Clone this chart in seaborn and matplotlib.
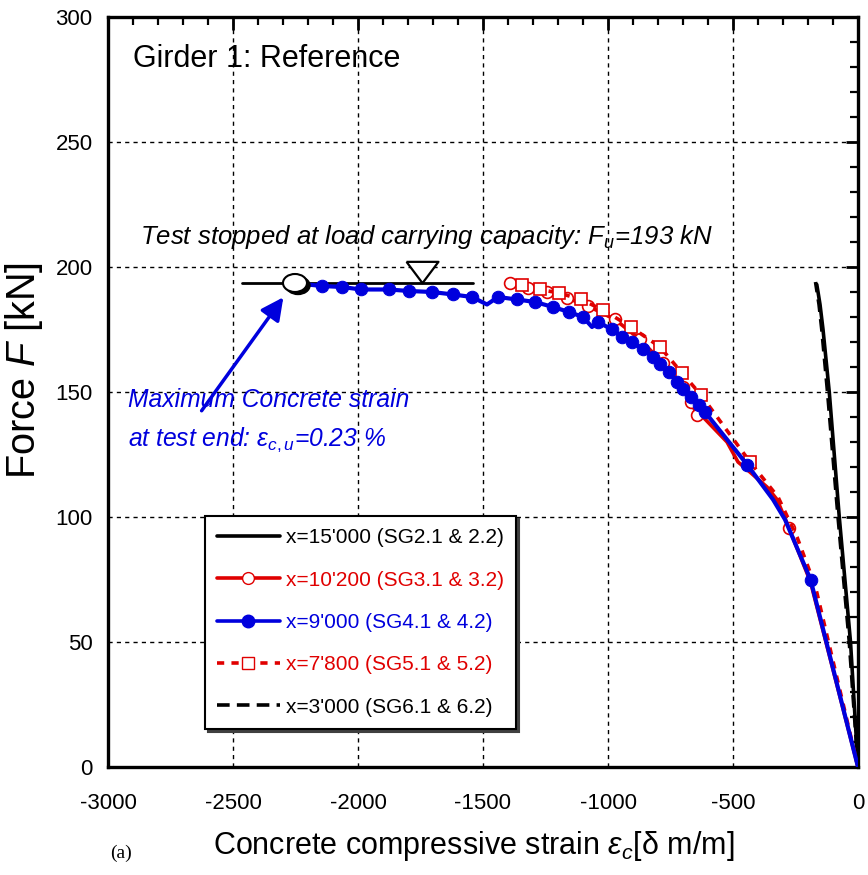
import numpy as np
import pandas as pd
import matplotlib
matplotlib.use("Agg")
import matplotlib.pyplot as plt
import seaborn as sns
from matplotlib.patches import Ellipse
from matplotlib.ticker import MultipleLocator

# ---------------- data ----------------
# x=15'000 (SG2.1 & 2.2)
k1_x = [0, -30, -75, -115, -140, -152, -160, -165]
k1_y = [0, 50, 100, 150, 175, 185, 190, 193]
# x=3'000 (SG6.1 & 6.2)
k2_x = [0, -35, -80, -122, -145, -156, -170]
k2_y = [0, 50, 100, 150, 175, 185, 194]
# x=10'200 (SG3.1 & 3.2)
r1_x = [0, -190, -276, -324, -364, -444, -480, -524, -620, -644, -668, -700, -780,
        -872, -972, -1080, -1164, -1244, -1320, -1392]
r1_y = [0, 74, 95.6, 107, 112, 119, 122, 130, 140, 141, 146, 152, 161.6,
        171, 179, 184.4, 187.6, 190, 191.6, 193.4]
r1_mark = [2, 9, 10, 11, 12, 13, 14, 15, 16, 17, 18, 19]
# x=9'000 (SG4.1 & 4.2)
b_x = [0, -190, -292, -340, -444, -612, -636, -668, -700, -724, -756, -792, -820,
       -860, -904, -944, -984, -1040, -1064, -1100, -1156, -1220, -1292, -1364,
       -1440, -1484, -1544, -1620, -1704, -1796, -1876, -1988, -2064, -2144, -2250]
b_y = [0, 75, 99, 107, 121, 142, 145, 148, 151, 154, 158, 161, 164,
       167, 170, 172, 175, 178, 176, 180, 182, 184, 186, 187,
       188, 185, 188, 189, 190, 190.4, 191, 191, 192, 192.4, 193.5]
b_mark = [1, 4, 5, 6, 7, 8, 9, 10, 11, 12, 13, 14, 15, 16, 17, 19, 20, 21, 22, 23,
          24, 26, 27, 28, 29, 30, 31, 32, 33]
# x=7'800 (SG5.1 & 5.2)
r2_x = [0, -170, -244, -320, -432, -628, -704, -792, -908, -1020, -1108, -1196, -1272, -1344]
r2_y = [0, 72, 92, 108, 122, 148.8, 157.6, 168, 176, 182.8, 187, 189.6, 191, 192.8]
r2_mark = [4, 5, 6, 7, 8, 9, 10, 11, 12, 13]

Fu = 193.6              # load carrying capacity line
Fu_span = [-2464, -1540]
Fu_tri_x = -1744
eps_cu = -2252          # max concrete strain at test end

BLUE = "#0000dd"
RED = "#e00000"

sns.set_style("white")
plt.rcParams["font.family"] = ["Liberation Sans", "DejaVu Sans"]
plt.rcParams["text.color"] = "k"
plt.rcParams["axes.labelcolor"] = "k"
plt.rcParams["xtick.color"] = "k"
plt.rcParams["ytick.color"] = "k"
plt.rcParams["axes.unicode_minus"] = False
plt.rcParams["mathtext.fontset"] = "custom"
plt.rcParams["mathtext.rm"] = "Liberation Sans"
plt.rcParams["mathtext.it"] = "Liberation Sans:italic"

fig = plt.figure(figsize=(8.68, 8.75), dpi=100)
ax = fig.add_axes([0.1244, 0.1234, 0.8641, 0.8572])

lw = 2.6
sns.lineplot(x=k1_x, y=k1_y, sort=False, estimator=None, color="k", lw=lw, ax=ax)
sns.lineplot(x=k2_x, y=k2_y, sort=False, estimator=None, color="k", lw=lw,
             linestyle=(0, (3.5, 2)), ax=ax)
sns.lineplot(x=r1_x, y=r1_y, sort=False, estimator=None, color=RED, lw=lw,
             marker="o", markevery=r1_mark, ms=8.5, mfc="white", mec=RED, mew=1.2, ax=ax)
sns.lineplot(x=r2_x, y=r2_y, sort=False, estimator=None, color=RED, lw=lw,
             linestyle=(0, (2, 2)), marker="s", markevery=r2_mark, ms=8.5,
             mfc="white", mec=RED, mew=1.2, ax=ax)
ax.plot(Fu_span, [Fu, Fu], color="k", lw=2, zorder=2)
sns.lineplot(x=b_x, y=b_y, sort=False, estimator=None, color=BLUE, lw=lw + 0.4,
             marker="o", markevery=b_mark, ms=9, mfc=BLUE, mec=BLUE, ax=ax, zorder=3)

# triangle marking F_u
tri = [(-1.5, 1), (1.5, 1), (0, -1), (-1.5, 1)]
ax.plot([Fu_tri_x], [Fu + 4.2], marker=tri, ms=23, mfc="white", mec="k", mew=1.6,
        ls="none", zorder=5)

# ellipse marking max strain, with shadow
ax.add_patch(Ellipse((eps_cu + 12, Fu - 1.0), 96, 7.2, fc="k", ec="k", zorder=6))
ax.add_patch(Ellipse((eps_cu, Fu), 96, 7.2, fc="white", ec="k", lw=1.5, zorder=7))

# axes styling
ax.set_xlim(-3000, 0)
ax.set_ylim(0, 300)
ax.set_xticks(np.arange(-3000, 1, 500))
ax.set_yticks(np.arange(0, 301, 50))
ax.xaxis.set_minor_locator(MultipleLocator(100))
ax.yaxis.set_minor_locator(MultipleLocator(10))
ax.tick_params(which="both", direction="in", top=True, right=True, color="k")
ax.tick_params(which="major", length=9, width=2)
ax.tick_params(which="minor", length=6, width=1.6)
ax.tick_params(axis="x", which="major", pad=19, labelsize=16)
ax.tick_params(axis="y", which="major", pad=11, labelsize=16)
for lab in ax.get_xticklabels() + ax.get_yticklabels():
    lab.set_family(["Liberation Sans Narrow", "Liberation Sans"])
for s in ax.spines.values():
    s.set_linewidth(2.4)
    s.set_color("k")
ax.grid(True, which="major", color="k", ls=(0, (3, 3)), lw=1)

ax.set_xlabel(r"Concrete compressive strain $\varepsilon_{c}$[δ m/m]", fontsize=22)
ax.set_ylabel(r"Force $\mathit{F}$ [kN]", fontsize=28.5)
ax.xaxis.set_label_coords(0.487, -0.082)
ax.yaxis.set_label_coords(-0.084, 0.529)

ax.text(-2900, 283, "Girder 1: Reference", fontsize=22, va="center", ha="left")
ax.text(-2872, 212, r"Test stopped at load carrying capacity: $\mathit{F}_{\mathit{u}}$=193 kN",
        fontsize=18.5, style="italic", va="center", ha="left")
ax.text(-2920, 147, "Maximum Concrete strain", fontsize=17.7, style="italic",
        color=BLUE, va="center", ha="left")
ax.text(-2920, 131, r"at test end: $\varepsilon_{c,u}$=0.23 %", fontsize=17.7,
        style="italic", color=BLUE, va="center", ha="left")
ax.annotate("", xy=(-2292, 188.8), xytext=(-2632, 141.6),
            arrowprops=dict(arrowstyle="-|>", color=BLUE, lw=2.5, mutation_scale=34),
            zorder=6)

fig.text(110 / 868, 1 - 853 / 875, "(a)", fontsize=14, family="Liberation Serif",
         va="center", ha="left")

# legend
h = [
    plt.Line2D([], [], color="k", lw=lw),
    plt.Line2D([], [], color=RED, lw=lw, marker="o", ms=8.5, mfc="white", mec=RED),
    plt.Line2D([], [], color=BLUE, lw=lw, marker="o", ms=9, mfc=BLUE, mec=BLUE),
    plt.Line2D([], [], color=RED, lw=lw, ls=(0, (2, 2)), marker="s", ms=8.5, mfc="white", mec=RED),
    plt.Line2D([], [], color="k", lw=lw, ls=(0, (3.5, 2))),
]
labels = ["x=15'000 (SG2.1 & 2.2)", "x=10'200 (SG3.1 & 3.2)", "x=9'000 (SG4.1 & 4.2)",
          "x=7'800 (SG5.1 & 5.2)", "x=3'000 (SG6.1 & 6.2)"]
leg = ax.legend(h, labels, loc="upper left", bbox_to_anchor=(0.129, 0.335),
                borderaxespad=0, fontsize=15, handlelength=3, handletextpad=0.3,
                labelspacing=1.12, borderpad=0.6, fancybox=False, framealpha=1,
                edgecolor="k", shadow={"color": "0.25", "alpha": 1})
leg.get_frame().set_linewidth(1.5)
for t, c in zip(leg.get_texts(), ["k", RED, BLUE, RED, "k"]):
    t.set_color(c)
leg.set_zorder(10)

fig.savefig("out.png", dpi=100)
